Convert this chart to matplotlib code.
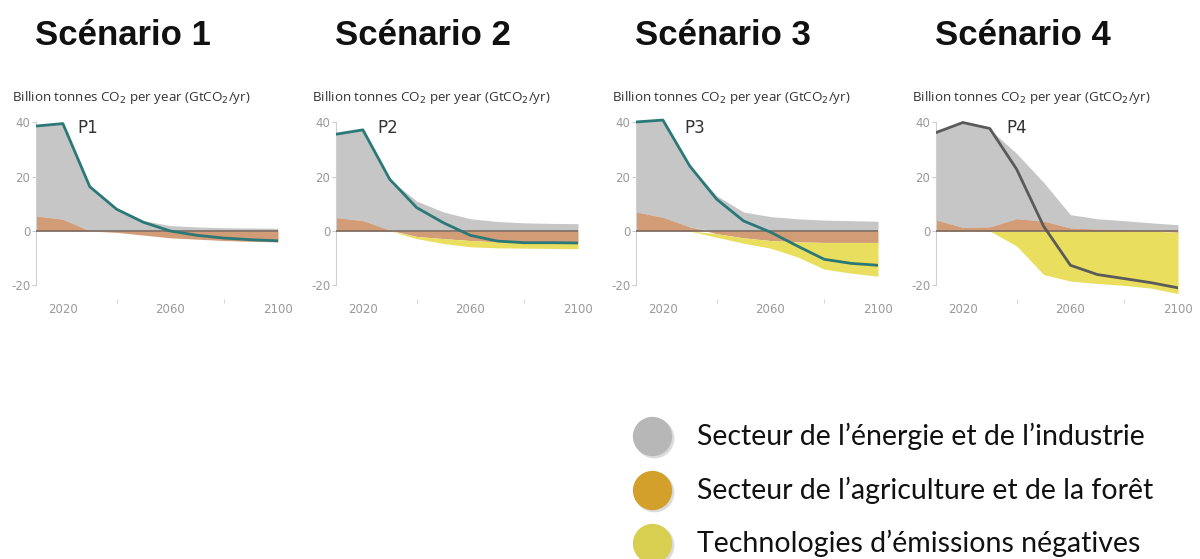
import matplotlib
matplotlib.use("Agg")
import matplotlib.pyplot as plt
import numpy as np

years = [2010, 2020, 2030, 2040, 2050, 2060, 2070, 2080, 2090, 2100]

titles = ["Scénario 1", "Scénario 2", "Scénario 3", "Scénario 4"]
pathway_labels = ["P1", "P2", "P3", "P4"]

# Fossil fuel & industry (GtCO2/yr)
energy_p1 = [33.0, 35.2, 16.0, 8.2, 3.8, 2.0, 1.5, 1.2, 1.1, 1.0]
energy_p2 = [30.7, 33.4, 18.7, 11.0, 7.0, 4.5, 3.5, 3.0, 2.8, 2.7]
energy_p3 = [33.1, 35.8, 22.4, 13.0, 7.0, 5.3, 4.5, 4.0, 3.8, 3.6]
energy_p4 = [32.2, 38.6, 35.9, 24.0, 14.3, 4.9, 3.8, 3.3, 2.8, 2.3]

# Agriculture, forestry & land use
afolu_p1 = [5.5, 4.3, 0.0, -0.5, -1.5, -2.5, -3.0, -3.5, -3.8, -4.0]
afolu_p2 = [4.9, 3.8, 0.3, -2.0, -2.8, -3.5, -4.0, -4.3, -4.5, -4.6]
afolu_p3 = [7.0, 5.0, 1.5, -1.0, -2.5, -3.5, -4.0, -4.2, -4.2, -4.2]
afolu_p4 = [4.0, 1.3, 1.5, 4.5, 3.6, 1.1, 0.7, 0.5, 0.2, -0.5]

# Negative emission technologies (BECCS)
beccs_p1 = [0, 0, 0, 0, 0, 0, 0, 0, 0, 0]
beccs_p2 = [0, 0, 0, -0.8, -1.8, -2.3, -2.2, -2.0, -1.9, -1.9]
beccs_p3 = [0, 0, 0, -1.3, -2.0, -2.8, -5.5, -9.8, -11.3, -12.4]
beccs_p4 = [0, 0, 0, -5.5, -16.0, -18.4, -19.3, -20.0, -21.0, -22.5]

# Net CO2 emissions
net_p1 = [38.6, 39.5, 16.3, 8.0, 3.2, 0.0, -1.6, -2.6, -3.2, -3.6]
net_p2 = [35.6, 37.2, 19.0, 8.6, 3.0, -1.6, -3.7, -4.3, -4.3, -4.4]
net_p3 = [40.1, 40.8, 23.9, 11.7, 3.7, -0.4, -5.5, -10.4, -11.9, -12.6]
net_p4 = [36.2, 39.9, 37.7, 22.7, 1.8, -12.6, -16.0, -17.5, -19.0, -20.9]

legend_labels = ["Secteur de l\u2019énergie et de l\u2019industrie",
                 "Secteur de l\u2019agriculture et de la forêt",
                 "Technologies d\u2019émissions négatives"]

energies = [energy_p1, energy_p2, energy_p3, energy_p4]
afolus = [afolu_p1, afolu_p2, afolu_p3, afolu_p4]
beccss = [beccs_p1, beccs_p2, beccs_p3, beccs_p4]
nets = [net_p1, net_p2, net_p3, net_p4]

c_gray = "#c6c6c6"
c_brown = "#d29c76"
c_yellow = "#e9de5e"
c_teal = "#2b7878"
line_colors = [c_teal, c_teal, c_teal, "#5a5a5a"]
plabel_x = [2029.3, 2029.3, 2032.0, 2040.0]

W, H = 1200, 559
fig = plt.figure(figsize=(W / 100, H / 100), dpi=100)
plt.rcParams['font.family'] = ['DejaVu Sans']

for k in range(4):
    left = (36 + 300 * k) / W
    ax = fig.add_axes([left, 1 - 299 / H, 242 / W, (299 - 116.8) / H])
    yrs = np.array(years, dtype=float)
    en = np.array(energies[k])
    af = np.array(afolus[k])
    be = np.array(beccss[k])
    afpos = np.clip(af, 0, None)
    afneg = np.clip(af, None, 0)
    ax.fill_between(yrs, afpos, afpos + en, color=c_gray, lw=0)
    ax.fill_between(yrs, 0, afpos, color=c_gray, lw=0)
    ax.fill_between(yrs, 0, af, color=c_brown, lw=0)
    ax.fill_between(yrs, afneg, afneg + be, color=c_yellow, lw=0)
    ax.axhline(0, color="#7d6b60", lw=1.2, zorder=3)
    ax.plot(yrs, nets[k], color=line_colors[k], lw=2.0, zorder=4)
    ax.set_xlim(2010, 2100)
    ax.set_ylim(-25, 42)
    for s in ["top", "right", "bottom"]:
        ax.spines[s].set_visible(False)
    ax.spines["left"].set_color("#d0d0d0")
    ax.spines["left"].set_bounds(-20, 40)
    ax.set_yticks([-20, 0, 20, 40])
    ax.set_yticklabels(["-20", "0", "20", "40"])
    ax.set_xticks([2020, 2060, 2100])
    ax.set_xticklabels(["2020", "2060", "2100"])
    ax.set_xticks([2040, 2080], minor=True)
    ax.tick_params(axis="y", colors="#cccccc", labelcolor="#9a9a9a", labelsize=8.5,
                   length=3, width=0.8, pad=1)
    ax.tick_params(axis="x", which="major", length=0, labelcolor="#9a9a9a",
                   labelsize=8.5, pad=3)
    ax.tick_params(axis="x", which="minor", length=3, color="#cccccc")
    ax.text(plabel_x[k], 38, pathway_labels[k], fontsize=12, color="#333333",
            ha="center", va="center")
    fig.text((12 + 300 * k) / W, 1 - 98 / H,
             "Billion tonnes CO$_2$ per year (GtCO$_2$/yr)", fontsize=9.6,
             family="Open Sans", color="#333333", ha="left", va="center")
    fig.text((35 + 300 * k) / W, 1 - 45 / H, titles[k], fontsize=25,
             fontweight="bold", family="Liberation Sans", ha="left", va="baseline",
             color="#111111")

# Legend
lax = fig.add_axes([0, 0, 1, 1])
lax.set_xlim(0, W)
lax.set_ylim(H, 0)
lax.axis("off")
leg_colors = ["#b7b7b7", "#d4a02c", "#d8cf50"]
leg_y = [436, 490, 543]
for lab, col, y in zip(legend_labels, leg_colors, leg_y):
    lax.scatter([654], [y + 2], s=820, color="#999999", alpha=0.35, lw=0)
    lax.scatter([652], [y], s=800, color=col, lw=0)
    lax.text(697, y, lab, fontsize=20.5, family="Lato", ha="left", va="center",
             color="#111111")

fig.savefig("out.png", dpi=100)
